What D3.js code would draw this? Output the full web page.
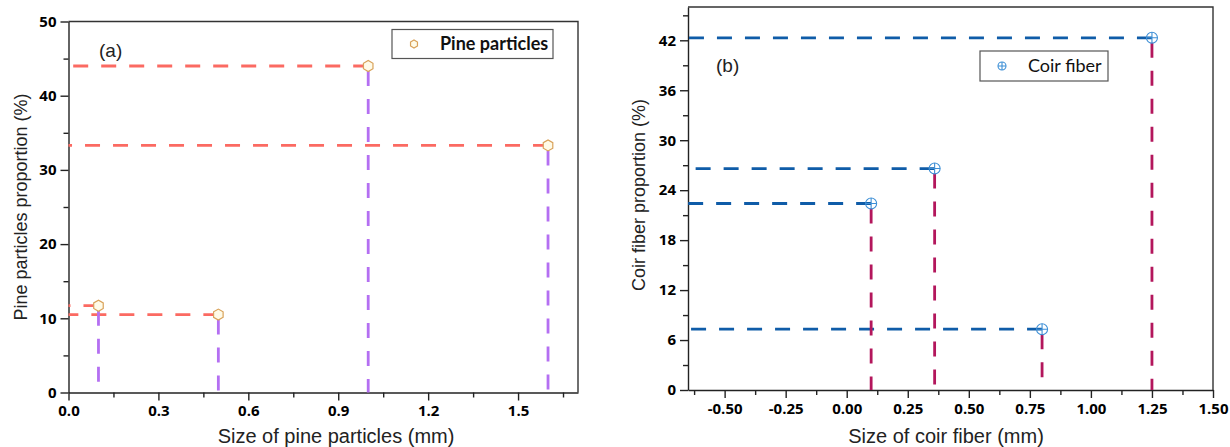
<!DOCTYPE html>
<html lang="en">
<head>
<meta charset="utf-8">
<title>particle size distribution</title>
<script src="https://d3js.org/d3.v7.min.js"></script>
<style>
  body { margin: 0; background: #fff; }
  .title { font-family: "Liberation Sans", Arial, sans-serif; fill: #222; }
  svg .tick text { font-family: "Open Sans", sans-serif; font-weight: 700; font-size: 15px; fill: #000; }
</style>
</head>
<body>
<div id="chart"></div>
<script>
// panel (a) pine particles
const pineSize = [0.1, 0.5, 1.0, 1.6];
const pineProp = [11.7, 10.5, 44.0, 33.3];
const pineXTicks = [0, 0.3, 0.6, 0.9, 1.2, 1.5];
const pineYTicks = [0, 10, 20, 30, 40, 50];

// panel (b) coir fiber
const coirSize = [0.1, 0.36, 0.8, 1.25];
const coirProp = [22.4, 26.6, 7.3, 42.3];
const coirXTicks = [-0.5, -0.25, 0, 0.25, 0.5, 0.75, 1.0, 1.25, 1.5];
const coirYTicks = [0, 6, 12, 18, 24, 30, 36, 42];

const svg = d3.select("#chart").append("svg")
  .attr("width", 1230).attr("height", 447);

// styles the axis lines and labels
function styleAxis(a) {
  a.attr("font-size", 15).attr("font-family", "Open Sans").attr("font-weight", "bold");
  a.selectAll(".domain, .tick line").attr("stroke", "#222").attr("stroke-width", 1.4);
}

function panel(o) {
  const g = svg.append("g");
  const x = d3.scaleLinear().domain(o.xDomain).range([o.left, o.right]);
  const y = d3.scaleLinear().domain(o.yDomain).range([o.bottom, o.top]);
  const xf = d3.format(o.xFmt);

  // minor ticks
  g.append("g").attr("transform", `translate(0,${o.bottom})`)
    .call(d3.axisBottom(x).tickValues(o.xMinor).tickSize(5).tickFormat(""))
    .call(a => a.select(".domain").remove())
    .call(styleAxis);
  g.append("g").attr("transform", `translate(${o.left},0)`)
    .call(d3.axisLeft(y).tickValues(o.yMinor).tickSize(5).tickFormat(""))
    .call(a => a.select(".domain").remove())
    .call(styleAxis);

  // major axes
  g.append("g").attr("transform", `translate(0,${o.bottom})`)
    .call(d3.axisBottom(x).tickValues(o.xTicks).tickSize(8).tickSizeOuter(0).tickPadding(5)
      .tickFormat(d => xf(d).replace("\u2212", "-")))
    .call(styleAxis);
  g.append("g").attr("transform", `translate(${o.left},0)`)
    .call(d3.axisLeft(y).tickValues(o.yTicks).tickSize(8).tickSizeOuter(0).tickPadding(4).tickFormat(d3.format("d")))
    .call(styleAxis);

  // frame top and right
  g.append("path")
    .attr("d", `M${o.left},${o.top}H${o.right}V${o.bottom}`)
    .attr("fill", "none").attr("stroke", "#333").attr("stroke-width", 1.4);

  const pts = o.xs.map((v, i) => ({x: v, y: o.ys[i]}));

  // drop lines
  g.append("g").selectAll("line").data(pts).join("line")
    .attr("x1", d => x(d.x)).attr("y1", d => y(d.y))
    .attr("x2", x(o.xDomain[0])).attr("y2", d => y(d.y))
    .attr("stroke", o.hColor).attr("stroke-width", 2.8)
    .attr("stroke-dasharray", "15,13");
  g.append("g").selectAll("line").data(pts).join("line")
    .attr("x1", d => x(d.x)).attr("y1", d => y(d.y) + 5)
    .attr("x2", d => x(d.x)).attr("y2", y(0))
    .attr("stroke", o.vColor).attr("stroke-width", 2.8)
    .attr("stroke-dasharray", "15,13");

  // points
  g.append("g").selectAll("g").data(pts).join("g")
    .attr("transform", d => `translate(${x(d.x)},${y(d.y)})`)
    .each(function() { o.marker(d3.select(this), 5.5); });

  // panel tag
  g.append("text").attr("class", "title").style("font-size", "19px")
    .attr("x", o.tag[0]).attr("y", o.tag[1]).text(o.tagText);

  // legend
  g.append("rect")
    .attr("x", o.leg[0]).attr("y", o.leg[1]).attr("width", o.leg[2]).attr("height", o.leg[3])
    .attr("fill", "#fff").attr("stroke", "#555").attr("stroke-width", 1.2);
  const lm = g.append("g").attr("transform", `translate(${o.leg[0] + 22},${o.leg[1] + o.leg[3] / 2})`);
  o.marker(lm, 4);
  g.append("text")
    .attr("x", o.leg[0] + 48).attr("y", o.leg[1] + o.leg[3] / 2 + 6)
    .style("font-family", "Lato, sans-serif").style("font-size", "18px")
    .style("font-weight", o.legBold ? "bold" : "normal").style("fill", "#111")
    .text(o.legText);

  // axis titles
  g.append("text").attr("class", "title").attr("text-anchor", "middle").style("font-size", "20px")
    .attr("x", o.xTitle[0]).attr("y", o.xTitle[1]).text(o.xTitleText);
  g.append("text").attr("class", "title").attr("text-anchor", "middle").style("font-size", "18px")
    .attr("transform", `translate(${o.yTitle[0]},${o.yTitle[1]}) rotate(-90)`)
    .text(o.yTitleText);
}

function hexMarker(sel, r) {
  const hex = d3.range(6).map(k => [r * Math.cos(Math.PI / 3 * k + Math.PI / 6), r * Math.sin(Math.PI / 3 * k + Math.PI / 6)]);
  sel.append("path").attr("d", d3.line()(hex) + "Z")
    .attr("fill", "#fffbe8").attr("stroke", "#d9a25a").attr("stroke-width", 1.2);
}
function crossMarker(sel, r) {
  sel.append("circle").attr("r", r).attr("fill", "none").attr("stroke", "#3d8fd6").attr("stroke-width", 1.1);
  sel.append("path").attr("d", `M${-r},0H${r}M0,${-r}V${r}`).attr("stroke", "#3d8fd6").attr("stroke-width", 1.1);
}

panel({
  xDomain: [0, 1.7], yDomain: [0, 50],
  left: 68.5, right: 578, top: 21.5, bottom: 392.5,
  xTicks: pineXTicks, yTicks: pineYTicks, xFmt: ".1f",
  xMinor: d3.range(0.15, 1.7, 0.3), yMinor: d3.range(5, 50, 10),
  xs: pineSize, ys: pineProp,
  hColor: "#fb6a62", vColor: "#b46ff2", marker: hexMarker,
  tag: [99, 57], tagText: "(a)",
  leg: [392, 29.5, 161, 29], legText: "Pine particles", legBold: true,
  xTitle: [336, 443], xTitleText: "Size of pine particles (mm)",
  yTitle: [27, 207], yTitleText: "Pine particles proportion (%)"
});

panel({
  xDomain: [-0.65, 1.5], yDomain: [0, 46],
  left: 688, right: 1213, top: 7, bottom: 390,
  xTicks: coirXTicks, yTicks: coirYTicks, xFmt: ".2f",
  xMinor: d3.range(-0.625, 1.5, 0.25), yMinor: d3.range(3, 46, 6),
  xs: coirSize, ys: coirProp,
  hColor: "#0f5ca8", vColor: "#b3165c", marker: crossMarker,
  tag: [716, 72], tagText: "(b)",
  leg: [980, 51, 128, 30], legText: "Coir fiber", legBold: false,
  xTitle: [946, 443], xTitleText: "Size of coir fiber (mm)",
  yTitle: [645, 195], yTitleText: "Coir fiber proportion (%)"
});
</script>
</body>
</html>
